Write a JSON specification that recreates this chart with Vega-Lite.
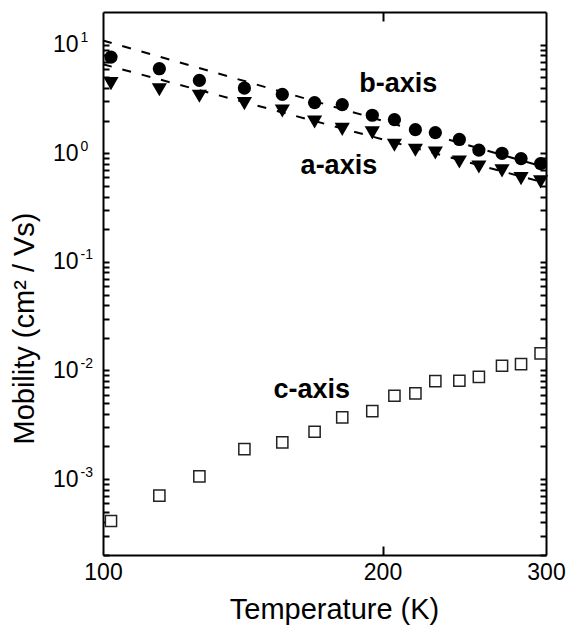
{
  "$schema": "https://vega.github.io/schema/vega-lite/v6.json",
  "width": 443,
  "height": 543,
  "autosize": {"type": "none"},
  "padding": {"left": 103, "top": 12, "right": 23, "bottom": 72},
  "background": "white",
  "config": {
    "view": {"stroke": null},
    "font": "Liberation Sans",
    "axis": {
      "grid": false,
      "domainColor": "black",
      "domainWidth": 2,
      "labelFont": "Liberation Sans",
      "labelFontSize": 23,
      "labelColor": "black",
      "labelFlush": false,
      "labelOverlap": false,
      "titleFont": "Liberation Sans",
      "titleFontSize": 29,
      "titleFontWeight": "normal",
      "titleColor": "black"
    }
  },
  "datasets": {
    "points": [
      {"series": "b", "T": 102, "mu": 7.69},
      {"series": "b", "T": 115, "mu": 6.01},
      {"series": "b", "T": 127, "mu": 4.69},
      {"series": "b", "T": 142, "mu": 3.99},
      {"series": "b", "T": 156, "mu": 3.49},
      {"series": "b", "T": 169, "mu": 2.93},
      {"series": "b", "T": 181, "mu": 2.81},
      {"series": "b", "T": 195, "mu": 2.24},
      {"series": "b", "T": 206, "mu": 2.04},
      {"series": "b", "T": 217, "mu": 1.65},
      {"series": "b", "T": 228, "mu": 1.55},
      {"series": "b", "T": 242, "mu": 1.34},
      {"series": "b", "T": 254, "mu": 1.07},
      {"series": "b", "T": 269, "mu": 1.0},
      {"series": "b", "T": 282, "mu": 0.894},
      {"series": "b", "T": 296, "mu": 0.804},
      {"series": "a", "T": 102, "mu": 4.38},
      {"series": "a", "T": 115, "mu": 3.85},
      {"series": "a", "T": 127, "mu": 3.35},
      {"series": "a", "T": 142, "mu": 2.87},
      {"series": "a", "T": 156, "mu": 2.45},
      {"series": "a", "T": 169, "mu": 1.94},
      {"series": "a", "T": 181, "mu": 1.66},
      {"series": "a", "T": 195, "mu": 1.54},
      {"series": "a", "T": 206, "mu": 1.185},
      {"series": "a", "T": 217, "mu": 1.066},
      {"series": "a", "T": 228, "mu": 1.006},
      {"series": "a", "T": 242, "mu": 0.832},
      {"series": "a", "T": 254, "mu": 0.748},
      {"series": "a", "T": 269, "mu": 0.688},
      {"series": "a", "T": 282, "mu": 0.585},
      {"series": "a", "T": 296, "mu": 0.545},
      {"series": "c", "T": 102, "mu": 0.000411},
      {"series": "c", "T": 115, "mu": 0.000704},
      {"series": "c", "T": 127, "mu": 0.001061},
      {"series": "c", "T": 142, "mu": 0.001891},
      {"series": "c", "T": 156, "mu": 0.00218},
      {"series": "c", "T": 169, "mu": 0.00273},
      {"series": "c", "T": 181, "mu": 0.0037},
      {"series": "c", "T": 195, "mu": 0.00423},
      {"series": "c", "T": 206, "mu": 0.00585},
      {"series": "c", "T": 217, "mu": 0.00616},
      {"series": "c", "T": 228, "mu": 0.00799},
      {"series": "c", "T": 242, "mu": 0.00804},
      {"series": "c", "T": 254, "mu": 0.00875},
      {"series": "c", "T": 269, "mu": 0.01105},
      {"series": "c", "T": 282, "mu": 0.01145},
      {"series": "c", "T": 296, "mu": 0.01437}
    ],
    "fits": [
      {"fit": "b", "T": 100, "mu": 10.93},
      {"fit": "b", "T": 300, "mu": 0.739},
      {"fit": "a", "T": 100, "mu": 6.6},
      {"fit": "a", "T": 300, "mu": 0.531}
    ],
    "labels": [
      {"T": 208, "mu": 3.64, "text": "b-axis"},
      {"T": 179.5, "mu": 0.65, "text": "a-axis"},
      {"T": 167.8, "mu": 0.00554, "text": "c-axis"}
    ]
  },
  "resolve": {"axis": {"x": "independent", "y": "independent"}},
  "layer": [
    {
      "data": {"name": "points"},
      "transform": [{"filter": "datum.series == 'b'"}],
      "mark": {"type": "point", "shape": "circle", "filled": true, "color": "black", "size": 175, "opacity": 1},
      "encoding": {
        "x": {"field": "T", "type": "quantitative", "scale": {"type": "log", "domain": [100, 300], "nice": false},
          "axis": {"orient": "bottom", "values": [100, 200, 300], "format": "d", "ticks": false, "labelPadding": 6,
            "title": "Temperature (K)", "titleX": 231, "titleY": 63, "titleBaseline": "alphabetic", "titleAlign": "center"}},
        "y": {"field": "mu", "type": "quantitative", "scale": {"type": "log", "domain": [0.0002, 20], "nice": false},
          "axis": {"orient": "left", "values": [0.001, 0.01, 0.1, 1, 10], "ticks": false,
            "labelExpr": "'10'", "labelAlign": "right", "labelBaseline": "middle", "labelPadding": 25,
            "title": "Mobility (cm² / Vs)", "titleX": -70, "titleY": 316, "titleBaseline": "alphabetic", "titleAlign": "center", "titleAngle": -90}}
      }
    },
    {
      "data": {"name": "points"},
      "transform": [{"filter": "datum.series == 'a'"}],
      "mark": {"type": "point", "shape": "triangle-down", "filled": true, "color": "black", "size": 230, "opacity": 1},
      "encoding": {
        "x": {"field": "T", "type": "quantitative", "scale": {"type": "log", "domain": [100, 300], "nice": false},
          "axis": {"orient": "top", "offset": -543, "values": [200], "labels": false, "domain": false, "title": null,
            "tickSize": 9, "tickColor": "#000000", "tickWidth": 2}},
        "y": {"field": "mu", "type": "quantitative", "scale": {"type": "log", "domain": [0.0002, 20], "nice": false},
          "axis": {"orient": "right", "offset": -443, "labels": false, "domain": false, "title": null,
            "tickSize": 6, "tickColor": "#000000", "tickWidth": 2,
            "values": [0.0002, 0.0003, 0.0004, 0.0005, 0.0006, 0.0007, 0.0008, 0.0009, 0.001, 0.002, 0.003, 0.004, 0.005, 0.006, 0.007, 0.008, 0.009, 0.01, 0.02, 0.03, 0.04, 0.05, 0.06, 0.07, 0.08, 0.09, 0.1, 0.2, 0.3, 0.4, 0.5, 0.6, 0.7, 0.8, 0.9, 1, 2, 3, 4, 5, 6, 7, 8, 9, 10]}}
      }
    },
    {
      "data": {"name": "points"},
      "transform": [{"filter": "datum.series == 'c'"}],
      "mark": {"type": "point", "shape": "square", "filled": true, "fill": "white", "stroke": "#222222", "strokeWidth": 1.5, "size": 125, "opacity": 1},
      "encoding": {
        "x": {"field": "T", "type": "quantitative", "scale": {"type": "log", "domain": [100, 300], "nice": false},
          "axis": {"orient": "bottom", "offset": -543, "values": [200], "labels": false, "title": null,
            "tickSize": 9, "tickColor": "#000000", "tickWidth": 2}},
        "y": {"field": "mu", "type": "quantitative", "scale": {"type": "log", "domain": [0.0002, 20], "nice": false},
          "axis": {"orient": "left", "offset": -443, "labels": false, "title": null,
            "tickSize": 6, "tickColor": "#000000", "tickWidth": 2,
            "values": [0.0002, 0.0003, 0.0004, 0.0005, 0.0006, 0.0007, 0.0008, 0.0009, 0.001, 0.002, 0.003, 0.004, 0.005, 0.006, 0.007, 0.008, 0.009, 0.01, 0.02, 0.03, 0.04, 0.05, 0.06, 0.07, 0.08, 0.09, 0.1, 0.2, 0.3, 0.4, 0.5, 0.6, 0.7, 0.8, 0.9, 1, 2, 3, 4, 5, 6, 7, 8, 9, 10]}}
      }
    },
    {
      "data": {"name": "fits"},
      "mark": {"type": "line", "color": "black", "strokeWidth": 2, "strokeDash": [9, 11]},
      "encoding": {
        "x": {"field": "T", "type": "quantitative", "scale": {"type": "log", "domain": [100, 300], "nice": false}, "axis": null},
        "y": {"field": "mu", "type": "quantitative", "scale": {"type": "log", "domain": [0.0002, 20], "nice": false},
          "axis": {"orient": "left", "values": [0.001, 0.01, 0.1, 1, 10], "ticks": false, "domain": false, "title": null,
            "labelExpr": "datum.value < 0.005 ? '-3' : datum.value < 0.05 ? '-2' : datum.value < 0.5 ? '-1' : datum.value < 5 ? '0' : '1'",
            "labelAlign": "left", "labelBaseline": "middle", "labelFontSize": 14, "labelPadding": 23, "labelOffset": -7}},
        "detail": {"field": "fit"}
      }
    },
    {
      "data": {"name": "labels"},
      "mark": {"type": "text", "font": "Liberation Sans", "fontWeight": "bold", "fontSize": 27, "color": "black", "align": "center", "baseline": "alphabetic"},
      "encoding": {
        "x": {"field": "T", "type": "quantitative", "scale": {"type": "log", "domain": [100, 300], "nice": false}, "axis": null},
        "y": {"field": "mu", "type": "quantitative", "scale": {"type": "log", "domain": [0.0002, 20], "nice": false}, "axis": null},
        "text": {"field": "text"}
      }
    }
  ]
}
